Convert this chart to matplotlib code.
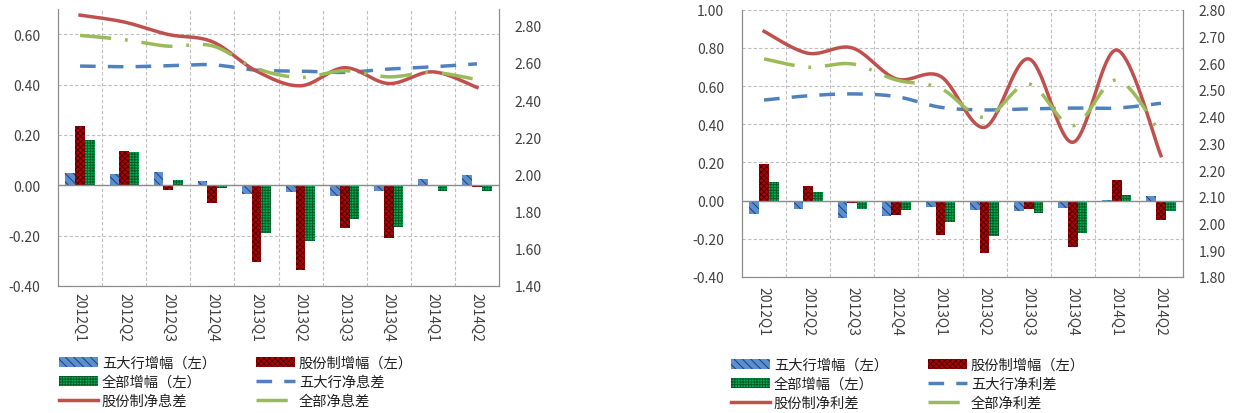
import numpy as np
import matplotlib
matplotlib.use('Agg')
import matplotlib.pyplot as plt
from matplotlib.ticker import FormatStrFormatter

plt.rcParams['font.family'] = ['Noto Sans CJK SC', 'DejaVu Sans']
plt.rcParams['hatch.linewidth'] = 0.7

quarters = ['2012Q1', '2012Q2', '2012Q3', '2012Q4', '2013Q1',
            '2013Q2', '2013Q3', '2013Q4', '2014Q1', '2014Q2']

# Left chart: 净息差
nim_big5_chg = [0.049, 0.045, 0.053, 0.017, -0.035, -0.025, -0.042, -0.021, 0.024, 0.040]
nim_jsb_chg = [0.235, 0.135, -0.019, -0.069, -0.304, -0.336, -0.171, -0.210, -0.004, -0.008]
nim_all_chg = [0.179, 0.131, 0.021, -0.012, -0.189, -0.221, -0.132, -0.164, -0.021, -0.021]
nim_big5 = [2.583, 2.579, 2.585, 2.590, 2.561, 2.556, 2.549, 2.567, 2.579, 2.595]
nim_jsb = [2.857, 2.820, 2.753, 2.714, 2.556, 2.477, 2.574, 2.489, 2.552, 2.468]
nim_all = [2.748, 2.725, 2.690, 2.692, 2.570, 2.522, 2.558, 2.525, 2.549, 2.510]

# Right chart: 净利差
nis_big5_chg = [-0.072, -0.044, -0.093, -0.082, -0.035, -0.051, -0.056, -0.038, 0.005, 0.026]
nis_jsb_chg = [0.190, 0.079, -0.012, -0.077, -0.178, -0.276, -0.042, -0.242, 0.108, -0.100]
nis_all_chg = [0.099, 0.045, -0.044, -0.051, -0.110, -0.187, -0.066, -0.169, 0.031, -0.056]
nis_big5 = [2.462, 2.478, 2.485, 2.475, 2.435, 2.425, 2.429, 2.432, 2.432, 2.450]
nis_jsb = [2.719, 2.637, 2.657, 2.541, 2.551, 2.360, 2.616, 2.304, 2.649, 2.254]
nis_all = [2.616, 2.585, 2.597, 2.537, 2.506, 2.397, 2.522, 2.366, 2.537, 2.335]

labels_left = ['五大行增幅（左）', '股份制增幅（左）', '全部增幅（左）',
               '五大行净息差', '股份制净息差', '全部净息差']
labels_right = ['五大行增幅（左）', '股份制增幅（左）', '全部增幅（左）',
                '五大行净利差', '股份制净利差', '全部净利差']

BLUE_F, BLUE_H = '#5B8FD0', '#1F3F73'
RED_F, RED_H = '#B00000', '#4A0000'
GRN_F, GRN_H = '#00B050', '#005A28'
L_BLUE, L_RED, L_GRN = '#4F81BD', '#C0504D', '#9BBB59'
SPINE = '#8C8C8C'
GRID = '#BFBFBF'
TXT = '#404040'


def smooth(xs, ys, n=40):
    x = np.asarray(xs, float)
    y = np.asarray(ys, float)
    P = np.column_stack([x, y])
    Pp = np.vstack([P[0], P, P[-1]])
    out = []
    for i in range(len(P) - 1):
        p1, p2 = Pp[i + 1], Pp[i + 2]
        c1 = p1 + (p2 - Pp[i]) / 6.0
        c2 = p2 - (Pp[i + 3] - p1) / 6.0
        t = np.linspace(0, 1, n)[:, None]
        seg = ((1 - t) ** 3) * p1 + 3 * ((1 - t) ** 2) * t * c1 + 3 * (1 - t) * t ** 2 * c2 + t ** 3 * p2
        out.append(seg if i == 0 else seg[1:])
    out = np.vstack(out)
    return out[:, 0], out[:, 1]


def draw(rect, bars, lines, labels, ylim1, yt1, ylim2, yt2, xpad, leg_anchor):
    ax = fig.add_axes(rect)
    x = np.arange(len(quarters))
    w = 0.22
    b1 = ax.bar(x - w, bars[0], w, color=BLUE_F, edgecolor=BLUE_H, hatch='\\\\\\\\', lw=0, zorder=3)
    b2 = ax.bar(x, bars[1], w, color=RED_F, edgecolor=RED_H, hatch='xxxxxx', lw=0, zorder=3)
    b3 = ax.bar(x + w, bars[2], w, color=GRN_F, edgecolor=GRN_H, hatch='++++++', lw=0, zorder=3)
    ax.axhline(0, color=SPINE, lw=1.0, zorder=4)
    ax.set_xlim(-0.5, len(quarters) - 0.5)
    ax.set_ylim(*ylim1)
    ax.set_yticks(yt1)
    ax.yaxis.set_major_formatter(FormatStrFormatter('%.2f'))
    ax.set_xticks(x)
    ax.set_xticklabels(quarters, rotation=270, va='top', ha='center')
    ax.set_xticks(np.arange(0.5, len(quarters) - 1, 1), minor=True)
    ax.yaxis.grid(True, which='major', ls=(0, (3, 2)), color=GRID, lw=0.8, zorder=0)
    ax.xaxis.grid(True, which='minor', ls=(0, (3, 2)), color=GRID, lw=0.8, zorder=0)
    ax.xaxis.grid(False, which='major')
    ax.tick_params(axis='y', length=0, pad=13, labelsize=10, labelcolor=TXT)
    ax.tick_params(axis='x', which='both', length=0, pad=xpad, labelsize=10, labelcolor=TXT)
    for s in ['left', 'right', 'bottom']:
        ax.spines[s].set_color(SPINE)
    ax.spines['top'].set_visible(False)
    ax.set_axisbelow(True)

    ax2 = ax.twinx()
    ax2.set_ylim(*ylim2)
    ax2.set_yticks(yt2)
    ax2.yaxis.set_major_formatter(FormatStrFormatter('%.2f'))
    ax2.tick_params(axis='y', length=0, pad=11, labelsize=10, labelcolor=TXT)
    for s in ['left', 'right', 'bottom']:
        ax2.spines[s].set_color(SPINE)
    ax2.spines['top'].set_visible(False)
    lw = 2.5
    xs, ys = smooth(x, lines[0])
    l1, = ax2.plot(xs, ys, color=L_BLUE, lw=lw, ls=(0, (4.5, 3.5)))
    xs, ys = smooth(x, lines[1])
    l2, = ax2.plot(xs, ys, color=L_RED, lw=lw, ls='-')
    xs, ys = smooth(x, lines[2])
    l3, = ax2.plot(xs, ys, color=L_GRN, lw=lw, ls=(0, (9, 4, 0.8, 4)))

    handles = [b1, b3, l2, b2, l1, l3]
    labs = [labels[0], labels[2], labels[4], labels[1], labels[3], labels[5]]
    fig.legend(handles, labs, loc='upper left', bbox_to_anchor=leg_anchor,
               ncol=2, frameon=False, fontsize=10.3, handlelength=2.7,
               handletextpad=0.3, columnspacing=2.8, labelspacing=0.34,
               borderpad=0, borderaxespad=0, labelcolor='#202020')


fig = plt.figure(figsize=(12.36, 4.14), dpi=100)

draw([58 / 1236, 1 - 287 / 414, 441 / 1236, 277 / 414],
     [nim_big5_chg, nim_jsb_chg, nim_all_chg],
     [nim_big5, nim_jsb, nim_all], labels_left,
     (-0.4, 0.7), [-0.4, -0.2, 0.0, 0.2, 0.4, 0.6],
     (1.4, 2.89), [1.4, 1.6, 1.8, 2.0, 2.2, 2.4, 2.6, 2.8],
     4, (59 / 1236, 1 - 357 / 414))

draw([742 / 1236, 1 - 278 / 414, 441 / 1236, 267.3 / 414],
     [nis_big5_chg, nis_jsb_chg, nis_all_chg],
     [nis_big5, nis_jsb, nis_all], labels_right,
     (-0.4, 1.0), [-0.4, -0.2, 0.0, 0.2, 0.4, 0.6, 0.8, 1.0],
     (1.8, 2.8), [1.8, 1.9, 2.0, 2.1, 2.2, 2.3, 2.4, 2.5, 2.6, 2.7, 2.8],
     6.5, (731 / 1236, 1 - 359 / 414))

fig.savefig('out.png', dpi=100, facecolor='white')
